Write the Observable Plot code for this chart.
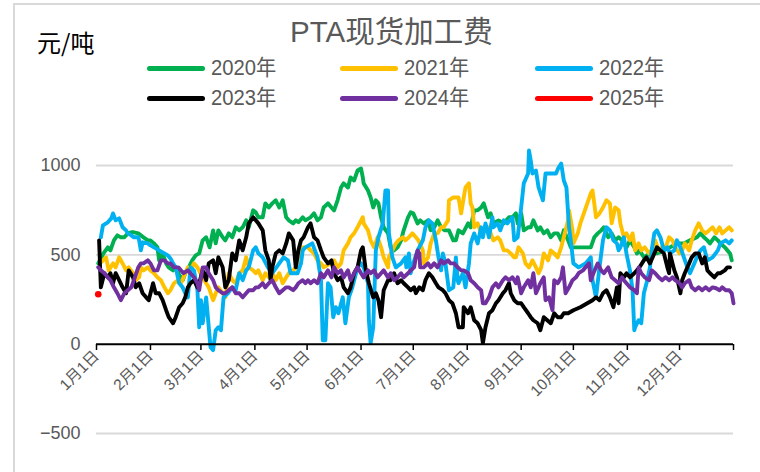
<!DOCTYPE html>
<html><head><meta charset="utf-8">
<script src="https://cdn.jsdelivr.net/npm/d3@7"></script>
<script src="https://cdn.jsdelivr.net/npm/@observablehq/plot@0.6"></script>
<style>
body{margin:0;background:#fff;}
#wrap{position:relative;width:760px;height:472px;overflow:hidden;background:#fff;font-family:"Liberation Sans","Noto Sans CJK SC",sans-serif;}
#frame{position:absolute;left:13px;top:3px;width:800px;height:520px;border-left:2px solid #d9d9d9;border-top:2px solid #d9d9d9;}
#title{position:absolute;left:290px;top:15px;font-size:29.5px;line-height:34px;color:#595959;white-space:nowrap;}
#unit{position:absolute;left:37px;top:29px;font-size:24px;line-height:26px;color:#000;white-space:nowrap;font-family:"Noto Sans CJK SC",sans-serif;}
.lg{position:absolute;height:26px;display:flex;align-items:center;white-space:nowrap;}
.sw{width:58px;height:5px;border-radius:3px;margin-right:6px;}
.lt{font-size:22px;color:#595959;line-height:24px;display:inline-block;transform:scaleX(0.92);transform-origin:left center;}
#chart{position:absolute;left:0;top:110px;}
</style></head>
<body><div id="wrap"><div id="frame"></div><div id="title"></div><div id="unit"></div><div id="legend"></div><div id="chart"></div></div>
<script>
const titleText = "PTA现货加工费";
const unitText = "元/吨";
const years = ["2020年","2021年","2022年","2023年","2024年","2025年"];
const colors = ["#00B050","#FFC000","#00B0F0","#000000","#7030A0","#FF0000"];
const tickDays = [0,31,60,91,121,152,182,213,244,274,305,335,366];
const tickLabels = ["1月1日","2月1日","3月1日","4月1日","5月1日","6月1日","7月1日","8月1日","9月1日","10月1日","11月1日","12月1日",""];
const yTicks = [-500,0,500,1000];

const s2020 = [[1,452],[2.5,480],[4,508],[6.5,542],[8,525],[10,581],[12,609],[14,598],[16,598],[18,620],[20,626],[21.5,626],[24,620],[25.5,609],[27,598],[29.5,581],[31,581],[33,564],[35,542],[36,469],[38,508],[40,452],[41.5,430],[44,413],[45.5,430],[47,397],[49.5,358],[51,397],[53,430],[55,469],[57,497],[59,508],[61,581],[63,598],[65,542],[67,637],[68.5,564],[70,637],[72.5,598],[74,581],[76,620],[78,598],[80,654],[82,637],[84,654],[86,693],[87.5,654],[90,749],[91.5,738],[93,710],[95.5,710],[97,788],[99,765],[101,788],[103,805],[105,765],[107,805],[109,710],[110.5,693],[113,676],[114.5,693],[116,682],[118.5,710],[120,693],[123,710],[125,732],[127,693],[129,710],[130.5,765],[133,788],[135,765],[136.5,749],[138.5,805],[140.5,877],[142,900],[144.5,877],[146,933],[148,916],[150,972],[152,983],[153,933],[153.5,900],[156,860],[157.5,821],[159,765],[160.5,805],[162,788],[163.5,710],[165,654],[167.5,620],[169,542],[171,525],[173,542],[175,581],[176.5,637],[179,710],[180.5,738],[182,732],[184.5,676],[186,693],[188,676],[190.5,693],[192,637],[194,654],[196,693],[198,654],[200,637],[202.5,637],[205,581],[206.5,581],[208,637],[210.5,620],[213.5,676],[215,654],[217,749],[219,749],[221,765],[222.5,788],[225,710],[226.5,732],[228,676],[231,693],[234,676],[237,710],[239,710],[241,732],[242,676],[244,732],[245.5,637],[248,654],[249.5,654],[251,693],[253.5,637],[255,654],[257,620],[259,637],[261,598],[263,620],[265,620],[267,581],[268.5,637],[271,581],[272.5,542],[276.5,542],[280,542],[284,542],[286,598],[288,620],[290,637],[291.5,654],[294,598],[296,620],[298,581],[300,598],[302,581],[303,564],[304.5,542],[306.5,581],[309,542],[310.5,508],[312,525],[314.5,486],[318,508],[322,508],[326,525],[329.5,542],[333.5,564],[337.5,564],[341,581],[345,598],[347,620],[349,598],[351,581],[352.5,564],[355,598],[357,581],[358.5,564],[361,542],[362.5,525],[364,508],[365,469]];

const s2021 = [[2,452],[5.5,486],[7,413],[9.5,452],[11,430],[13,486],[15,452],[17,413],[18.5,430],[21,397],[22.5,358],[24.5,374],[25.5,430],[27,413],[29.5,430],[31,413],[33,397],[35,374],[37,358],[39,318],[41,285],[42.5,302],[44.5,341],[47,358],[48.5,341],[50,374],[52.5,430],[54,413],[56,452],[58,430],[61,374],[63,341],[64.5,318],[67,246],[68.5,285],[70,318],[72.5,285],[74,262],[76,397],[78,358],[80,341],[82,397],[84,413],[86,486],[87.5,430],[90,413],[91.5,397],[93,413],[95.5,358],[97,397],[99,374],[101,397],[103,358],[105,397],[107,341],[109,374],[110.5,397],[113,413],[114.5,430],[116,486],[118.5,542],[121.5,542],[123,525],[125,508],[127,469],[129,452],[130.5,430],[134.5,452],[136.5,469],[138.5,430],[140.5,452],[142,525],[144.5,564],[146,598],[148,620],[150,654],[152,693],[153,710],[153.5,676],[156,637],[157.5,581],[159.5,542],[161.5,598],[163.5,542],[165,486],[167.5,430],[168,486],[170,525],[172,564],[173.5,581],[176,598],[177.5,581],[179.5,598],[181.5,620],[183.5,598],[185,581],[187.5,525],[188,452],[190.5,486],[192,564],[194,620],[196,620],[198,654],[199.5,654],[202,693],[202.5,805],[205,821],[206.5,821],[208,821],[209.5,732],[211,821],[212,877],[214,900],[215,788],[216,765],[217,654],[219,676],[221,620],[222.5,637],[225,654],[226.5,620],[228,581],[230.5,598],[232,581],[234,525],[236,525],[238,508],[240,486],[241,486],[242.5,542],[245,508],[246.5,452],[248.5,430],[250.5,469],[252.5,430],[254,397],[255.5,430],[257,508],[259.5,469],[261,525],[263,508],[265,486],[267,542],[268.5,598],[271,693],[271.5,749],[273.5,637],[274,564],[276.5,620],[278,676],[280,732],[282,788],[284,844],[285,860],[286,788],[287,710],[289,732],[291,765],[293,805],[295,788],[296,676],[298,765],[300,749],[301,676],[303,598],[304.5,620],[306.5,581],[308,620],[309.5,525],[311.5,564],[313,525],[315,542],[317.5,508],[319,525],[321,581],[323,525],[325,542],[327,542],[329,598],[331,581],[332.5,542],[335,508],[336.5,525],[338,564],[340.5,525],[342,581],[344,637],[346,676],[348,637],[350,620],[352,637],[354,654],[356,620],[358,654],[359.5,620],[361.5,637],[363.5,654],[365,637]];

const s2022 = [[2.5,598],[3.7,665],[6.5,682],[8.5,704],[9.5,732],[11,693],[13,704],[15,654],[17,637],[18,620],[20,609],[21.5,598],[24,598],[24.5,581],[25.5,525],[26.5,570],[29.5,564],[31,553],[33,542],[36,525],[38,514],[41,497],[42.5,480],[44,452],[45.5,430],[47.5,341],[49.5,318],[51,285],[52.5,262],[54,430],[56,413],[58,302],[59,95],[60,246],[61,117],[63,262],[64.5,95],[65.5,-17],[67,-33],[68.5,78],[70,95],[71.5,78],[73,262],[75.5,285],[78,318],[80,302],[82,397],[84,358],[86,413],[87.5,430],[90,525],[91.5,542],[93,508],[95.5,486],[98.5,430],[101,397],[105,452],[107.5,486],[110,469],[111.5,397],[115.5,397],[117.5,452],[118.5,525],[120,542],[124,564],[127,486],[129,358],[130,22],[131.5,22],[133,341],[134.5,318],[136,151],[137.5,207],[139,173],[141.5,262],[143,117],[145,262],[147,318],[150,430],[152,452],[153.5,430],[156,341],[156.5,134],[157.5,6],[159,95],[160.5,525],[162,598],[164.5,676],[166,860],[167.5,860],[168,620],[170,486],[172,430],[175,452],[177.5,486],[178,430],[179.5,508],[180.5,397],[182,452],[184.5,525],[187.5,581],[189,654],[191,693],[193,676],[195,581],[196.5,486],[198,413],[199,508],[200.5,452],[202.5,302],[205,318],[206.5,486],[207.5,358],[208,341],[210.5,397],[212,318],[214,452],[215,564],[217,620],[219,564],[221,654],[222,598],[223.5,676],[225.5,598],[227.5,710],[228,654],[230.5,676],[232,637],[234,693],[236,676],[239,710],[240,581],[242,598],[244,765],[245.5,900],[248,955],[248.5,1084],[249.5,1028],[250.5,955],[252.5,972],[254,877],[256.5,805],[258,955],[261,955],[264,955],[265.5,989],[267,1011],[268.5,916],[270,877],[271.5,654],[272.5,581],[274,452],[277,430],[281,452],[284,486],[285,358],[287,262],[289,430],[291,581],[293,654],[295,637],[297,581],[299,564],[300,525],[301,542],[303,598],[304.5,508],[306.5,413],[308,302],[309,78],[309.5,95],[311.5,134],[313,117],[314.5,285],[316,341],[318,430],[319,525],[320.5,620],[322,637],[324,598],[326,525],[328,542],[329.5,508],[332,525],[333.5,581],[335.5,542],[337.5,486],[339.5,430],[341,397],[343.5,452],[345,486],[347,525],[349,542],[351,469],[354,486],[357,525],[358.5,564],[361.5,581],[363.5,564],[365,581]];

const s2023 = [[1.5,581],[2.5,318],[4.5,397],[6.5,374],[8,397],[9.5,341],[11,397],[13,358],[15,318],[17,285],[18.5,413],[21,374],[22.5,318],[24.5,341],[26.5,285],[28.5,262],[30,246],[32.5,341],[34,285],[36,285],[38,246],[40,190],[41.5,151],[44,117],[45.5,151],[47.5,207],[49.5,229],[51,262],[52.5,318],[54,341],[56,358],[58,318],[59,341],[61,413],[63,358],[64.5,452],[67,469],[68.5,397],[70,486],[72.5,430],[74,318],[76,358],[78,508],[80,469],[82,581],[84,525],[86,598],[87.5,676],[90,710],[91.5,693],[93,676],[95.5,637],[97,525],[99,469],[100,358],[101,430],[103,508],[105,525],[107,508],[109,564],[110.5,620],[113,581],[114.5,430],[116,525],[117.5,581],[119,598],[121.5,654],[123,676],[125,598],[127,581],[129,525],[130.5,486],[133,452],[135,469],[136.5,397],[138.5,358],[140.5,374],[142,318],[144.5,285],[146,318],[148,397],[150,430],[152,525],[153,542],[154.5,430],[156.5,341],[159,262],[160.5,285],[162,246],[163.5,151],[165,302],[167.5,358],[169,358],[171,397],[173,341],[175,358],[176.5,341],[179,318],[180.5,302],[182.5,318],[183.5,285],[185.5,318],[187.5,302],[189,358],[191,397],[193,374],[195,341],[196.5,318],[199,302],[200.5,285],[202.5,246],[204.5,229],[206.5,173],[208,95],[210.5,95],[211,207],[213.5,173],[215,207],[217,134],[219,117],[221,78],[222,6],[223.5,95],[225.5,173],[227.5,190],[229.5,229],[231,246],[233.5,285],[235,302],[237,341],[238,285],[240,246],[242,229],[244,229],[245.5,207],[248,173],[249.5,151],[251,134],[253.5,117],[255,78],[257,151],[259,134],[261,117],[263,173],[265,151],[267,151],[268.5,173],[271,173],[274,190],[278,207],[282,229],[285,246],[287,262],[289,246],[291,285],[293,302],[295,262],[297,207],[299,318],[300,229],[301,397],[303,374],[304.5,397],[306.5,374],[309,397],[310.5,413],[312,430],[314.5,469],[316,486],[318,452],[320.5,508],[322,542],[324,525],[326,508],[328,430],[329,397],[329.5,508],[332,413],[333.5,374],[335.5,285],[336.5,358],[338,397],[340.5,452],[342,486],[344,508],[346,508],[348,452],[349.5,486],[351,413],[352.5,397],[355,374],[357,397],[358.5,397],[361,413],[362.5,430],[364,430]];

const s2024 = [[1,430],[2.5,413],[4.5,397],[6.5,374],[8,358],[10,318],[12,285],[14,246],[16,285],[18,302],[20,318],[21.5,358],[24,430],[25.5,452],[27,452],[29.5,469],[31,452],[33,413],[35,413],[37,469],[39,469],[41,452],[42.5,452],[44.5,430],[47,430],[48.5,413],[50,397],[52.5,413],[54,397],[56,374],[58,341],[59,302],[61,430],[63,430],[64.5,397],[67,358],[68.5,318],[70,302],[72.5,285],[74,285],[76,302],[78,318],[80,285],[82,285],[84,262],[86,285],[87.5,302],[90,302],[91.5,318],[93,318],[95.5,341],[97,318],[99,341],[101,358],[103,318],[105,285],[107,302],[109,318],[110.5,318],[113,302],[114.5,318],[116,341],[118.5,358],[120,341],[121.5,358],[123,341],[125,358],[127,341],[129,397],[130.5,374],[133,413],[135,374],[136.5,430],[138.5,397],[140.5,413],[142,374],[144.5,413],[146,358],[148,397],[150,430],[152,397],[153.5,374],[156,413],[157.5,397],[159.5,413],[161.5,374],[163.5,397],[165,413],[167.5,374],[169,397],[171,358],[173,374],[175,397],[176.5,374],[179,397],[180.5,413],[182.5,430],[183.5,486],[184.5,525],[185.5,508],[186,430],[188,430],[190.5,452],[192,430],[194,452],[196,430],[198,469],[199.5,452],[202,469],[203.5,452],[205.5,452],[207.5,430],[209.5,413],[211,413],[213.5,397],[215,358],[217,341],[219,318],[221,302],[222,229],[223.5,229],[225.5,262],[227.5,318],[229.5,341],[231,318],[233.5,358],[235,374],[237,358],[239,374],[241,341],[242,374],[244,285],[245.5,318],[248,358],[249.5,318],[251,397],[252.5,285],[254,318],[255,341],[257,374],[258,246],[260,262],[262,190],[263,358],[265,341],[267,374],[268,430],[269.5,285],[271.5,318],[273.5,358],[275.5,374],[277,397],[279.5,413],[281,430],[283,452],[284,358],[285.5,397],[288,452],[290,413],[291.5,397],[294,430],[296,374],[298,358],[300,341],[302,374],[303,358],[304.5,341],[306.5,318],[309,302],[310.5,285],[311.5,430],[313,397],[315,374],[317.5,358],[319,413],[321,397],[323,374],[325,358],[327,374],[329,358],[331,374],[332.5,358],[335,341],[336.5,318],[338,341],[340.5,358],[342,318],[344,302],[346,318],[348,302],[350,318],[352,302],[354,318],[356,313],[358,302],[359.5,318],[361.5,302],[363.5,302],[365,285],[366,229]];

const s2025 = [[1,279]];

const series = [s2020, s2021, s2022, s2023, s2024];
const lineRows = series.flatMap((s, k) => s.map(([d, v]) => ({year: years[k], day: d, value: v})));
const dotRows = s2025.map(([d, v]) => ({year: years[5], day: d, value: v}));
const labelOf = new Map(tickDays.map((d, i) => [d, tickLabels[i]]));

document.getElementById("title").textContent = titleText;
document.getElementById("unit").textContent = unitText;

// legend
const legendPos = [[147,55],[340,55],[535,55],[147,85],[340,85],[535,85]];
const lg = document.getElementById("legend");
years.forEach((y, i) => {
  const el = document.createElement("div");
  el.className = "lg";
  el.style.left = legendPos[i][0] + "px";
  el.style.top = legendPos[i][1] + "px";
  el.innerHTML = `<div class="sw" style="background:${colors[i]}"></div><span class="lt">${y}</span>`;
  lg.appendChild(el);
});

const fmtY = d => (d < 0 ? "\u2212" + (-d) : String(d));

const chart = Plot.plot({
  width: 760,
  height: 362,
  marginLeft: 96,
  marginRight: 27,
  marginTop: 40,
  marginBottom: 128,
  style: {fontFamily: '"Liberation Sans","Noto Sans CJK SC",sans-serif', background: "transparent", overflow: "visible"},
  x: {type: "linear", domain: [0, 366]},
  y: {domain: [-500, 1000], range: [323, 55]},
  color: {domain: years, range: colors},
  marks: [
    Plot.ruleY([-500, 500, 1000], {stroke: "#d9d9d9", strokeWidth: 1.8}),
    Plot.axisY({ticks: yTicks, tickFormat: fmtY, tickSize: 0, tickPadding: 16, fontSize: 18, fill: "#595959", label: null}),
    Plot.line(lineRows, {x: "day", y: "value", z: "year", stroke: "year", strokeWidth: 3.9, strokeLinejoin: "round", strokeLinecap: "round"}),
    Plot.dot(dotRows, {x: "day", y: "value", fill: "year", r: 3.3}),
    Plot.ruleY([0], {stroke: "#000", strokeWidth: 2}),
    Plot.axisX({ticks: tickDays, tickFormat: d => labelOf.get(d), tickRotate: -45, tickSize: 6, tickPadding: 3, fontSize: 15.5, stroke: "#000", strokeWidth: 1.5, fill: "#595959", label: null})
  ]
});
document.getElementById("chart").appendChild(chart);
</script>
</body></html>
